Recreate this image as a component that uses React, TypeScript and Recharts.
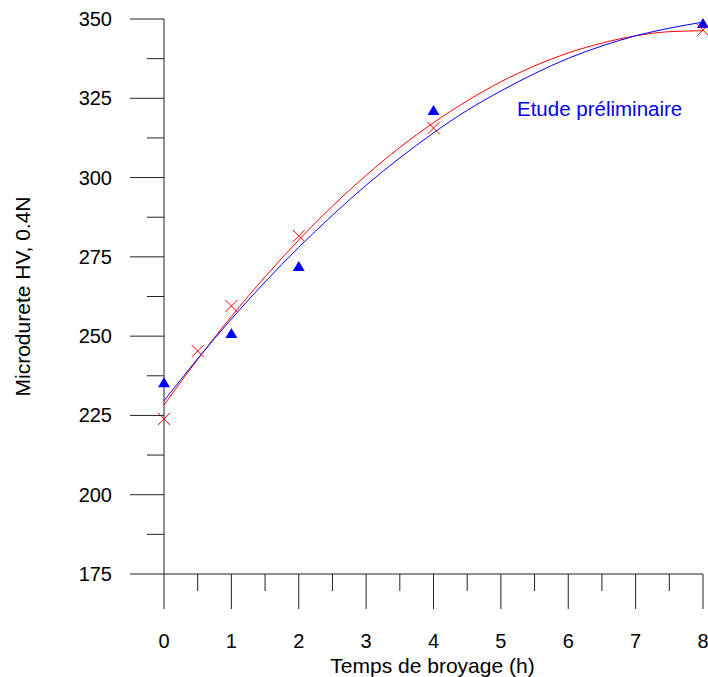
import React from "react"
import {
  ComposedChart,
  Line,
  Scatter,
  XAxis,
  YAxis,
  Label,
} from "recharts"

// fitted curves, every half hour
const curveX = [0, 0.5, 1, 1.5, 2, 2.5, 3, 3.5, 4, 4.5, 5, 5.5, 6, 6.5, 7, 7.5, 8]
const redCurve = [228.3, 242.7, 256.2, 268.7, 280.3, 291.0, 300.7, 309.5, 317.3, 324.2, 330.2, 335.2, 339.3, 342.4, 344.7, 346.0, 346.3]
const blueCurve = [229.6, 242.9, 255.4, 267.1, 278.0, 288.1, 297.6, 306.2, 314.1, 321.2, 327.3, 332.8, 337.6, 341.5, 344.7, 347.1, 349.0]

// measured points
const redX = [0, 0.5, 1, 2, 4, 8]
const redY = [223.9, 245.3, 259.5, 281.6, 315.6, 346.5]
const blueX = [0, 1, 2, 4, 8]
const blueY = [235.5, 251.0, 272.1, 321.3, 348.7]

const xTicks = [0, 0.5, 1, 1.5, 2, 2.5, 3, 3.5, 4, 4.5, 5, 5.5, 6, 6.5, 7, 7.5, 8]
const yTicks = [175, 187.5, 200, 212.5, 225, 237.5, 250, 262.5, 275, 287.5, 300, 312.5, 325, 337.5, 350]

const FONT = "'Liberation Sans', Arial, sans-serif"
const AXIS = "#222"
const RED = "#ff0000"
const BLUE = "#0000ff"

const redLine = curveX.map((x, i) => ({ x, y: redCurve[i] }))
const blueLine = curveX.map((x, i) => ({ x, y: blueCurve[i] }))
const redPts = redX.map((x, i) => ({ x, y: redY[i] }))
const bluePts = blueX.map((x, i) => ({ x, y: blueY[i] }))

function XTick(props: any) {
  const { x, y, payload } = props
  const major = Number.isInteger(payload.value)
  return (
    <g>
      <line x1={x} y1={y} x2={x} y2={y + (major ? 35 : 17)} stroke={AXIS} strokeWidth={1} />
      {major && (
        <text x={x} y={y + 67} dy="0.35em" textAnchor="middle" fontSize={20} fill="#000" fontFamily={FONT}>
          {payload.value}
        </text>
      )}
    </g>
  )
}

function YTick(props: any) {
  const { x, y, payload } = props
  const major = payload.value % 25 === 0
  return (
    <g>
      <line x1={x - (major ? 34 : 17)} y1={y} x2={x} y2={y} stroke={AXIS} strokeWidth={1} />
      {major && (
        <text x={x - 52} y={y} dy="0.35em" textAnchor="end" fontSize={20} fill="#000" fontFamily={FONT}>
          {payload.value}
        </text>
      )}
    </g>
  )
}

function Triangle(props: any) {
  const { cx, cy } = props
  return <path d={`M${cx - 6},${cy + 5}L${cx + 6},${cy + 5}L${cx},${cy - 5}Z`} fill={BLUE} />
}

function Cross(props: any) {
  const { cx, cy } = props
  return (
    <path
      d={`M${cx - 6},${cy - 6}L${cx + 6},${cy + 6}M${cx - 6},${cy + 6}L${cx + 6},${cy - 6}`}
      stroke={RED}
      strokeWidth={1}
      fill="none"
    />
  )
}

export default function App() {
  return (
    <div style={{ position: "absolute", left: 0, top: 0, width: 708, height: 677, background: "#fff" }}>
      <ComposedChart
        width={708}
        height={677}
        margin={{ top: 19, right: 5, left: 104, bottom: 43 }}
      >
        <XAxis
          type="number"
          dataKey="x"
          domain={[0, 8]}
          ticks={xTicks}
          interval={0}
          height={60}
          tickSize={0}
          tickMargin={0}
          tickLine={false}
          axisLine={{ stroke: AXIS, strokeWidth: 1 }}
          tick={(p: any) => <XTick {...p} />}
          allowDuplicatedCategory={false}
        >
          <Label
            content={(p: any) => {
              const vb = p.viewBox
              return (
                <text
                  x={vb.x + vb.width / 2 - 1}
                  y={vb.y + 99}
                  textAnchor="middle"
                  fontSize={21}
                  fill="#000"
                  fontFamily={FONT}
                >
                  Temps de broyage (h)
                </text>
              )
            }}
          />
        </XAxis>
        <YAxis
          type="number"
          dataKey="y"
          domain={[175, 350]}
          ticks={yTicks}
          interval={0}
          width={60}
          tickSize={0}
          tickMargin={0}
          tickLine={false}
          axisLine={{ stroke: AXIS, strokeWidth: 1 }}
          tick={(p: any) => <YTick {...p} />}
        >
          <Label
            content={(p: any) => {
              const vb = p.viewBox
              const cx = vb.x - 74
              const cy = vb.y + vb.height / 2
              return (
                <text
                  x={cx}
                  y={cy}
                  transform={`rotate(-90, ${cx}, ${cy})`}
                  textAnchor="middle"
                  fontSize={21}
                  fill="#000"
                  fontFamily={FONT}
                >
                  Microdurete HV, 0.4N
                </text>
              )
            }}
          />
        </YAxis>
        <Line
          data={redLine}
          dataKey="y"
          type="monotone"
          stroke={RED}
          strokeWidth={1}
          dot={false}
          activeDot={false}
          isAnimationActive={false}
        />
        <Line
          data={blueLine}
          dataKey="y"
          type="monotone"
          stroke={BLUE}
          strokeWidth={1}
          dot={false}
          activeDot={false}
          isAnimationActive={false}
        />
        <Scatter data={bluePts} dataKey="y" shape={(p: any) => <Triangle {...p} />} isAnimationActive={false} />
        <Scatter data={redPts} dataKey="y" shape={(p: any) => <Cross {...p} />} isAnimationActive={false} />
      </ComposedChart>
      <div
        style={{
          position: "absolute",
          left: 517,
          top: 99,
          fontSize: 20.5,
          lineHeight: "20px",
          color: BLUE,
          fontFamily: FONT,
          whiteSpace: "nowrap",
        }}
      >
        Etude préliminaire
      </div>
    </div>
  )
}
